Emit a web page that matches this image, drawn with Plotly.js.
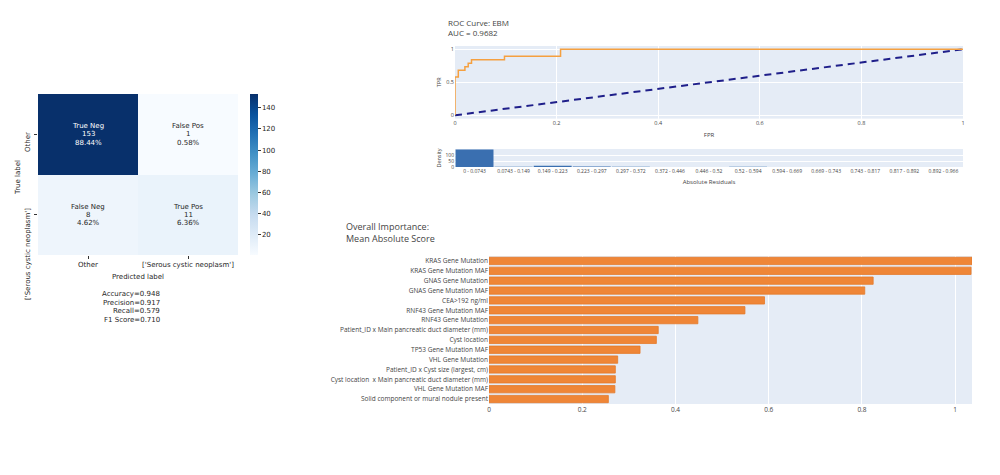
<!DOCTYPE html>
<html>
<head>
<meta charset="utf-8">
<script src="https://cdn.plot.ly/plotly-3.0.1.min.js"></script>
<style>html,body{margin:0;padding:0;background:#fff;}#chart{width:1000px;height:475px;}</style>
</head>
<body>
<div id="chart"></div>
<script>
// ---------- Confusion matrix ----------
const cmLabels = ["Other", "['Serous cystic neoplasm']"];
const cmCounts = [[153, 1], [8, 11]];
const cmNames = [["True Neg", "False Pos"], ["False Neg", "True Pos"]];
const cmPercents = [["88.44%", "0.58%"], ["4.62%", "6.36%"]];
const cmTicks = [20, 40, 60, 80, 100, 120, 140];
const metricLines = ["Accuracy=0.948", "Precision=0.917", "Recall=0.579", "F1 Score=0.710"];

// ---------- ROC ----------
const rocFpr = [0, 0, 0.0065, 0.0065, 0.0195, 0.0195, 0.026, 0.026, 0.0325, 0.0325, 0.0974, 0.0974, 0.2078, 0.2078, 1];
const rocTpr = [0, 0.579, 0.579, 0.684, 0.684, 0.737, 0.737, 0.789, 0.789, 0.842, 0.842, 0.895, 0.895, 1, 1];
const diagX = [0, 1];
const diagY = [0, 1];
const rocTitle = "ROC Curve: EBM";
const aucText = "AUC = 0.9682";

// ---------- Residual histogram ----------
const residBins = ["0 - 0.0743", "0.0743 - 0.149", "0.149 - 0.223", "0.223 - 0.297", "0.297 - 0.372", "0.372 - 0.446", "0.446 - 0.52", "0.52 - 0.594", "0.594 - 0.669", "0.669 - 0.743", "0.743 - 0.817", "0.817 - 0.892", "0.892 - 0.966"];
const residCounts = [145, 3, 10, 4, 3, 1, 1, 2, 1, 0, 1, 1, 1];

// ---------- Feature importance ----------
const impFeatures = [
  "KRAS Gene Mutation",
  "KRAS Gene Mutation MAF",
  "GNAS Gene Mutation",
  "GNAS Gene Mutation MAF",
  "CEA>192 ng/ml",
  "RNF43 Gene Mutation MAF",
  "RNF43 Gene Mutation",
  "Patient_ID x Main pancreatic duct diameter (mm)",
  "Cyst location",
  "TP53 Gene Mutation MAF",
  "VHL Gene Mutation",
  "Patient_ID x Cyst size (largest, cm)",
  "Cyst location  x Main pancreatic duct diameter (mm)",
  "VHL Gene Mutation MAF",
  "Solid component or mural nodule present"
];
const impValues = [1.036, 1.034, 0.824, 0.806, 0.591, 0.549, 0.448, 0.363, 0.359, 0.324, 0.276, 0.271, 0.271, 0.270, 0.256];
const impTitle = "Overall Importance:<br>Mean Absolute Score";

// ---------- helpers ----------
const W = 1000, H = 475;
const px = v => v / W;
const py = v => 1 - v / H;
const MPL = "DejaVu Sans";
const mplColor = "#262626";

const blues = [
  [0, "#f7fbff"], [0.125, "#deebf7"], [0.25, "#c6dbef"], [0.375, "#9ecae1"],
  [0.5, "#6baed6"], [0.625, "#4292c6"], [0.75, "#2171b5"], [0.875, "#08519c"], [1, "#08306b"]
];

const traces = [
  {
    type: "heatmap", z: cmCounts, x: cmLabels, y: cmLabels,
    xaxis: "x", yaxis: "y", zmin: 1, zmax: 153, colorscale: blues,
    hoverinfo: "skip",
    colorbar: {
      x: px(250), xanchor: "left", y: py(94), yanchor: "top",
      len: 161, lenmode: "pixels", thickness: 8, thicknessmode: "pixels",
      xpad: 0, ypad: 0, outlinewidth: 0, ticks: "outside", ticklen: 3,
      tickcolor: "#333", tickvals: cmTicks,
      tickfont: {family: MPL, size: 7, color: mplColor}
    }
  },
  {
    type: "scatter", mode: "lines", x: diagX, y: diagY, xaxis: "x2", yaxis: "y2",
    line: {color: "#1f1f8a", width: 2, dash: "7px,5px"}, hoverinfo: "skip"
  },
  {
    type: "scatter", mode: "lines", x: rocFpr, y: rocTpr, xaxis: "x2", yaxis: "y2",
    line: {color: "#f5a040", width: 1.5}, hoverinfo: "skip"
  },
  {
    type: "bar", x: residBins, y: residCounts, xaxis: "x3", yaxis: "y3",
    width: 0.97, marker: {color: "#3a6fb0"}, hoverinfo: "skip"
  },
  {
    type: "bar", orientation: "h", x: impValues, y: impFeatures, xaxis: "x4", yaxis: "y4",
    width: 0.74, marker: {color: "#ef8637", line: {color: "#e57a2a", width: 0.8}}, hoverinfo: "skip"
  }
];

const annotations = [];
// cell texts
for (let r = 0; r < 2; r++) {
  for (let c = 0; c < 2; c++) {
    const cx = 88 + c * 100, cy = 134.5 + r * 80.5;
    const col = cmCounts[r][c] > 80 ? "#ffffff" : mplColor;
    const lines = [cmNames[r][c], String(cmCounts[r][c]), cmPercents[r][c]];
    lines.forEach((t, i) => {
      annotations.push({
        xref: "paper", yref: "paper", x: px(cx), y: py(cy - 8.3 + i * 8.3),
        xanchor: "center", yanchor: "middle", showarrow: false, text: t,
        font: {family: MPL, size: 7, color: col}
      });
    });
  }
}
// y tick labels (rotated)
[[cmLabels[0], 130], [cmLabels[1], 206]].forEach(([t, top]) => {
  annotations.push({
    xref: "paper", yref: "paper", x: px(28), y: py(top), xanchor: "center", yanchor: "top",
    textangle: -90, showarrow: false, text: t, font: {family: MPL, size: 7, color: mplColor}
  });
});
annotations.push({
  xref: "paper", yref: "paper", x: px(18), y: py(178), xanchor: "center", yanchor: "middle",
  textangle: -90, showarrow: false, text: "True label", font: {family: MPL, size: 7, color: mplColor}
});
annotations.push({
  xref: "paper", yref: "paper", x: px(138), y: py(277), xanchor: "center", yanchor: "middle",
  showarrow: false, text: "Predicted label", font: {family: MPL, size: 7, color: mplColor}
});
metricLines.forEach((t, i) => {
  annotations.push({
    xref: "paper", yref: "paper", x: px(162), y: py(294 + i * 8.5), xanchor: "right", yanchor: "middle",
    showarrow: false, text: t, font: {family: MPL, size: 7, color: mplColor}
  });
});
// ROC title
annotations.push({
  xref: "paper", yref: "paper", x: px(446), y: py(15), xanchor: "left", yanchor: "top", align: "left",
  showarrow: false, text: rocTitle + "<br>" + aucText, font: {size: 8, color: "#444"}
});
// Importance title
annotations.push({
  xref: "paper", yref: "paper", x: px(344), y: py(218), xanchor: "left", yanchor: "top", align: "left",
  showarrow: false, text: impTitle, font: {size: 9, color: "#444"}
});

const gridAx = {gridcolor: "#ffffff", zerolinecolor: "#ffffff", linecolor: "#ffffff", showline: false, ticks: ""};

const layout = {
  width: W, height: H,
  margin: {l: 0, r: 0, t: 0, b: 0, pad: 0},
  paper_bgcolor: "#ffffff",
  plot_bgcolor: "#e5ecf6",
  showlegend: false,
  font: {family: "Open Sans, sans-serif", color: "#444"},
  xaxis: {
    domain: [px(38), px(238)], anchor: "y", showgrid: false, zeroline: false, showline: false,
    ticks: "outside", ticklen: 3, tickcolor: "#333",
    tickfont: {family: MPL, size: 7, color: mplColor}
  },
  yaxis: {
    domain: [py(255), py(94)], anchor: "x", autorange: "reversed", showgrid: false, zeroline: false,
    showline: false, ticks: "outside", ticklen: 3, tickcolor: "#333", showticklabels: false
  },
  xaxis2: Object.assign({}, gridAx, {
    domain: [px(455), px(963)], anchor: "y2", range: [0, 1], tickvals: [0, 0.2, 0.4, 0.6, 0.8, 1],
    zeroline: false, tickfont: {size: 5.5, color: "#444"},
    title: {text: "FPR", font: {size: 6, color: "#444"}, standoff: 6}
  }),
  yaxis2: Object.assign({}, gridAx, {
    domain: [py(118.6), py(46)], anchor: "x2", range: [-0.05, 1.05], tickvals: [0, 0.5, 1],
    zeroline: false, tickfont: {size: 5.5, color: "#444"},
    title: {text: "TPR", font: {size: 5.5, color: "#444"}, standoff: 4}
  }),
  xaxis3: Object.assign({}, gridAx, {
    domain: [px(455), px(963)], anchor: "y3", showgrid: false, tickangle: 0,
    tickfont: {size: 5, color: "#444"},
    title: {text: "Absolute Residuals", font: {size: 6, color: "#444"}, standoff: 6}
  }),
  yaxis3: Object.assign({}, gridAx, {
    domain: [py(167), py(149)], anchor: "x3", range: [0, 150], tickvals: [0, 50, 100],
    tickfont: {size: 5, color: "#444"},
    title: {text: "Density", font: {size: 5.5, color: "#444"}, standoff: 3}
  }),
  xaxis4: Object.assign({}, gridAx, {
    domain: [px(489), px(972)], anchor: "y4", range: [0, 1.036], tickvals: [0, 0.2, 0.4, 0.6, 0.8, 1],
    zeroline: false, tickfont: {size: 6.5, color: "#444"}
  }),
  yaxis4: Object.assign({}, gridAx, {
    domain: [py(404), py(256)], anchor: "x4", autorange: "reversed", showgrid: false,
    tickfont: {size: 6.5, color: "#444"}
  }),
  annotations: annotations
};

Plotly.newPlot("chart", traces, layout, {staticPlot: true, displayModeBar: false});
</script>
</body>
</html>
